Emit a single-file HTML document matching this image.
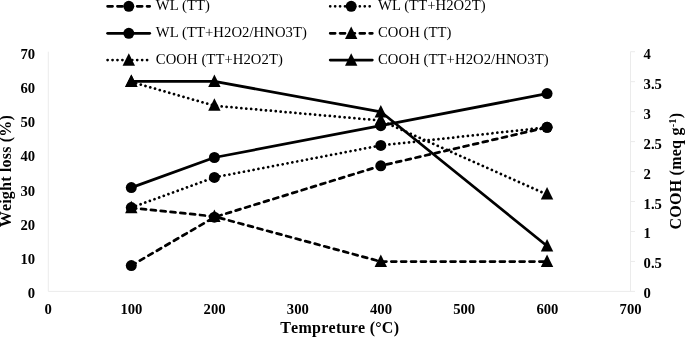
<!DOCTYPE html>
<html lang="en"><head><meta charset="utf-8"><title>Weight loss and COOH vs temperature</title>
<style>
html,body{margin:0;padding:0;background:#fff;}
body{width:685px;height:337px;overflow:hidden;}
svg{display:block;}
text{font-family:"Liberation Serif",serif;fill:#000;}
.tk{font-size:14.67px;font-weight:bold;}
.lg{font-size:14.67px;letter-spacing:0.08px;}
.ti{font-size:16px;font-weight:bold;font-kerning:none;}
</style></head><body>
<svg width="685" height="337" viewBox="0 0 685 337">
<rect width="685" height="337" fill="#fff"/>
<g stroke="#ebebeb" stroke-width="1" fill="none">
<path d="M48.3 51.7 V291.4 H635"/>
<path d="M630.5 51.7 V291.4"/>
<path d="M630.5 261.44 H635"/>
<path d="M630.5 231.48 H635"/>
<path d="M630.5 201.52 H635"/>
<path d="M630.5 171.56 H635"/>
<path d="M630.5 141.60 H635"/>
<path d="M630.5 111.64 H635"/>
<path d="M630.5 81.68 H635"/>
<path d="M630.5 51.72 H635"/>
</g>
<g class="tk" text-anchor="end">
<text x="35.2" y="298.40">0</text>
<text x="35.2" y="264.16">10</text>
<text x="35.2" y="229.91">20</text>
<text x="35.2" y="195.67">30</text>
<text x="35.2" y="161.43">40</text>
<text x="35.2" y="127.18">50</text>
<text x="35.2" y="92.94">60</text>
<text x="35.2" y="58.70">70</text>
</g>
<g class="tk" text-anchor="start">
<text x="643.6" y="298.40">0</text>
<text x="643.6" y="268.44">0.5</text>
<text x="643.6" y="238.48">1</text>
<text x="643.6" y="208.52">1.5</text>
<text x="643.6" y="178.56">2</text>
<text x="643.6" y="148.60">2.5</text>
<text x="643.6" y="118.64">3</text>
<text x="643.6" y="88.68">3.5</text>
<text x="643.6" y="58.72">4</text>
</g>
<g class="tk" text-anchor="middle">
<text x="48.20" y="314.2">0</text>
<text x="131.40" y="314.2">100</text>
<text x="214.60" y="314.2">200</text>
<text x="297.80" y="314.2">300</text>
<text x="381.00" y="314.2">400</text>
<text x="464.20" y="314.2">500</text>
<text x="547.40" y="314.2">600</text>
<text x="630.60" y="314.2">700</text>
</g>
<text class="ti" x="280.2" y="332.9" textLength="118.8" lengthAdjust="spacing">Tempreture (°C)</text>
<text class="ti" transform="translate(10.8 227.3) rotate(-90)" textLength="112.2" lengthAdjust="spacing">Weight loss (%)</text>
<text class="ti" transform="translate(680.6 229.5) rotate(-90)" textLength="116.7" lengthAdjust="spacing">COOH (meq g<tspan font-size="10.5px" dy="-4.6">-1</tspan><tspan dy="4.6">)</tspan></text>
<g id="wl_tt">
<path d="M131.30 265.60 L214.40 217.20 L380.80 165.80 L547.05 127.30" fill="none" stroke="#000" stroke-width="2.75" stroke-linecap="round" stroke-linejoin="round" stroke-dasharray="4.93 4.94"/>
<circle cx="131.30" cy="265.60" r="5.5"/>
<circle cx="214.40" cy="217.20" r="5.5"/>
<circle cx="380.80" cy="165.80" r="5.5"/>
<circle cx="547.05" cy="127.30" r="5.5"/>
</g>
<g id="wl_h">
<path d="M131.30 207.60 L214.40 177.40 L380.80 145.40 L547.05 127.30" fill="none" stroke="#000" stroke-width="2.75" stroke-linecap="round" stroke-linejoin="round" stroke-dasharray="0.01 4.925"/>
<circle cx="131.30" cy="207.60" r="5.5"/>
<circle cx="214.40" cy="177.40" r="5.5"/>
<circle cx="380.80" cy="145.40" r="5.5"/>
<circle cx="547.05" cy="127.30" r="5.5"/>
</g>
<g id="wl_hn">
<path d="M131.30 187.60 L214.40 157.50 L380.80 125.70 L547.05 93.60" fill="none" stroke="#000" stroke-width="2.75" stroke-linecap="round" stroke-linejoin="round"/>
<circle cx="131.30" cy="187.60" r="5.5"/>
<circle cx="214.40" cy="157.50" r="5.5"/>
<circle cx="380.80" cy="125.70" r="5.5"/>
<circle cx="547.05" cy="93.60" r="5.5"/>
</g>
<g id="c_tt">
<path d="M131.30 207.80 L214.40 216.50 L380.80 261.60 L547.05 261.60" fill="none" stroke="#000" stroke-width="2.75" stroke-linecap="round" stroke-linejoin="round" stroke-dasharray="4.93 4.94"/>
<polygon points="131.30,200.70 125.10,213.20 137.50,213.20"/>
<polygon points="214.40,209.40 208.20,221.90 220.60,221.90"/>
<polygon points="380.80,254.50 374.60,267.00 387.00,267.00"/>
<polygon points="547.05,254.50 540.85,267.00 553.25,267.00"/>
</g>
<g id="c_h">
<path d="M131.30 81.90 L214.40 105.70 L380.80 120.50 L547.05 194.50" fill="none" stroke="#000" stroke-width="2.75" stroke-linecap="round" stroke-linejoin="round" stroke-dasharray="0.01 4.925"/>
<polygon points="131.30,74.50 125.10,87.00 137.50,87.00"/>
<polygon points="214.40,98.30 208.20,110.80 220.60,110.80"/>
<polygon points="380.80,113.10 374.60,125.60 387.00,125.60"/>
<polygon points="547.05,187.10 540.85,199.60 553.25,199.60"/>
</g>
<g id="c_hn">
<path d="M131.30 81.40 L214.40 81.40 L380.80 111.80 L547.05 246.00" fill="none" stroke="#000" stroke-width="2.75" stroke-linecap="round" stroke-linejoin="round"/>
<polygon points="131.30,74.50 125.10,87.00 137.50,87.00"/>
<polygon points="214.40,74.50 208.20,87.00 220.60,87.00"/>
<polygon points="380.80,104.90 374.60,117.40 387.00,117.40"/>
<polygon points="547.05,239.10 540.85,251.60 553.25,251.60"/>
</g>
<g id="legend">
<path d="M107.60 6.30 L149.70 6.30" fill="none" stroke="#000" stroke-width="2.75" stroke-linecap="round" stroke-linejoin="round" stroke-dasharray="4.93 4.94"/>
<circle cx="128.80" cy="6.30" r="5.5"/>
<text class="lg" x="155.8" y="10.45">WL (TT)</text>
<path d="M107.60 33.30 L149.70 33.30" fill="none" stroke="#000" stroke-width="2.75" stroke-linecap="round" stroke-linejoin="round"/>
<circle cx="128.80" cy="33.30" r="5.5"/>
<text class="lg" x="155.8" y="37.45">WL (TT+H2O2/HNO3T)</text>
<path d="M107.60 60.05 L149.70 60.05" fill="none" stroke="#000" stroke-width="2.75" stroke-linecap="round" stroke-linejoin="round" stroke-dasharray="0.01 4.925"/>
<polygon points="128.80,53.15 122.60,65.65 135.00,65.65"/>
<text class="lg" x="155.8" y="64.20">COOH (TT+H2O2T)</text>
<path d="M330.20 6.30 L372.30 6.30" fill="none" stroke="#000" stroke-width="2.75" stroke-linecap="round" stroke-linejoin="round" stroke-dasharray="0.01 4.925"/>
<circle cx="351.20" cy="6.30" r="5.5"/>
<text class="lg" x="378.0" y="10.45">WL (TT+H2O2T)</text>
<path d="M330.20 33.30 L372.30 33.30" fill="none" stroke="#000" stroke-width="2.75" stroke-linecap="round" stroke-linejoin="round" stroke-dasharray="4.93 4.94"/>
<polygon points="351.20,26.40 345.00,38.90 357.40,38.90"/>
<text class="lg" x="378.0" y="37.45">COOH (TT)</text>
<path d="M330.20 60.05 L372.30 60.05" fill="none" stroke="#000" stroke-width="2.75" stroke-linecap="round" stroke-linejoin="round"/>
<polygon points="351.20,53.15 345.00,65.65 357.40,65.65"/>
<text class="lg" x="378.0" y="64.20">COOH (TT+H2O2/HNO3T)</text>
</g>
</svg></body></html>
